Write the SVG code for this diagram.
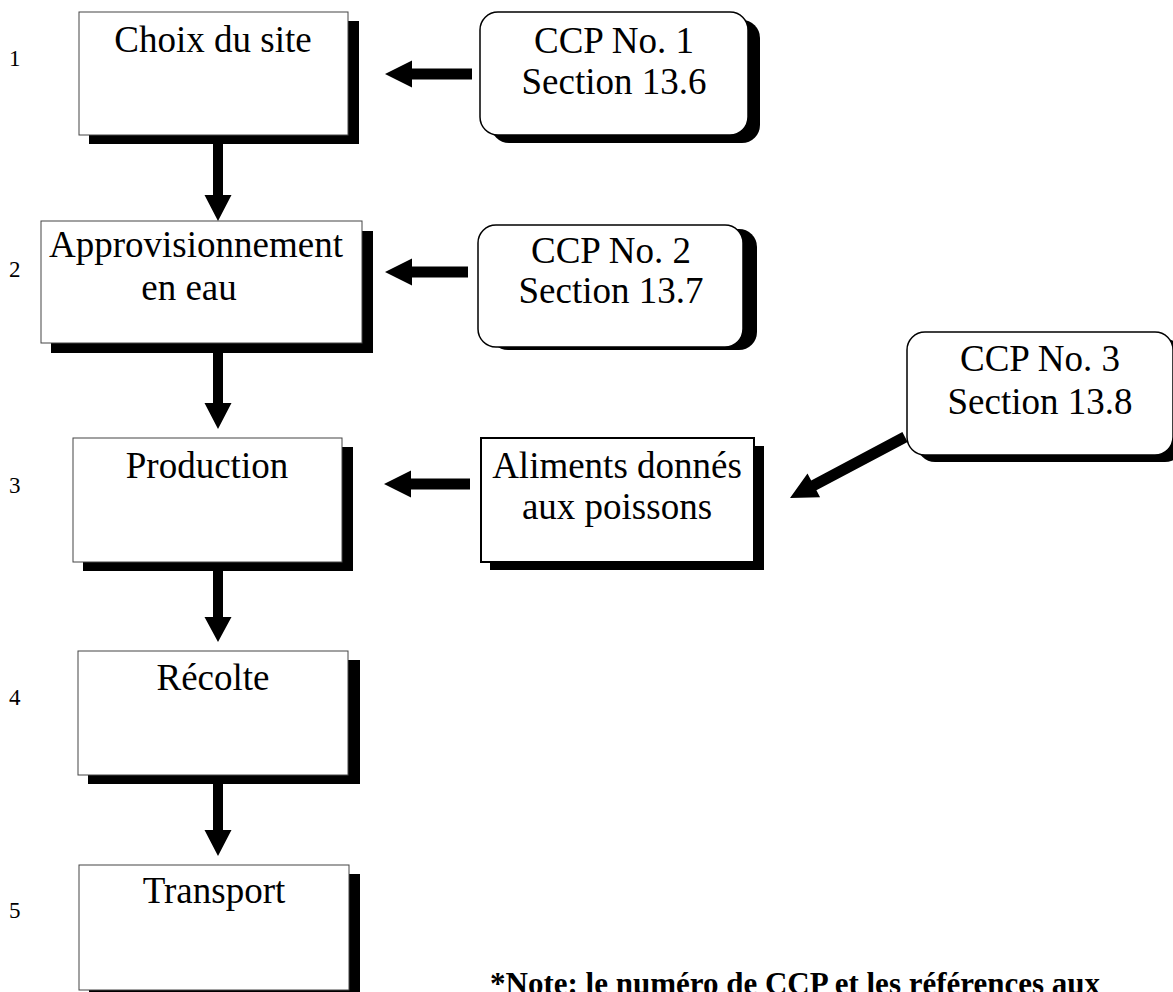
<svg xmlns="http://www.w3.org/2000/svg" width="1173" height="992" viewBox="0 0 1173 992" font-family="'Liberation Serif', 'Times New Roman', Times, 'DejaVu Serif', serif">
<style>
text{font-family:'Liberation Serif','Times New Roman',Times,'DejaVu Serif',serif;fill:#000}
.t{font-size:37px;text-anchor:middle}
.num{font-size:23px}
.box{fill:#fff;stroke:#444;stroke-width:1}
.rbox{fill:#fff;stroke:#000;stroke-width:1.5}
.abox{fill:#fff;stroke:#000;stroke-width:2}
.sh{fill:#000}
.arr{fill:#000}
.note{font-size:31px;font-weight:bold}
</style>
<rect width="1173" height="992" fill="#fff"/>
<g id="labels">
<text class="num" x="9" y="66">1</text>
<text class="num" x="9" y="277">2</text>
<text class="num" x="9" y="493">3</text>
<text class="num" x="9" y="705">4</text>
<text class="num" x="9" y="918">5</text>
</g>
<g id="step1">
<rect class="sh" x="89" y="21" width="270" height="123"/>
<rect class="box" x="79" y="12" width="269" height="123"/>
<text class="t" x="213" y="52">Choix du site</text>
</g>
<g id="step2">
<rect class="sh" x="51" y="231" width="322" height="122"/>
<rect class="box" x="41" y="221" width="321" height="122"/>
<text class="t" x="196" y="257">Approvisionnement</text>
<text class="t" x="189" y="300">en eau</text>
</g>
<g id="step3">
<rect class="sh" x="83" y="447" width="270" height="124"/>
<rect class="box" x="73" y="438" width="269" height="124"/>
<text class="t" x="207" y="478">Production</text>
</g>
<g id="step4">
<rect class="sh" x="88" y="660" width="272" height="124"/>
<rect class="box" x="78" y="651" width="270" height="124"/>
<text class="t" x="213" y="690">Récolte</text>
</g>
<g id="step5">
<rect class="sh" x="89" y="874" width="271" height="125"/>
<rect class="box" x="79" y="865" width="270" height="125"/>
<text class="t" x="214" y="903">Transport</text>
</g>
<g id="ccp1">
<rect class="sh" x="491" y="20" width="269" height="123" rx="18"/>
<rect class="rbox" x="480" y="12" width="268" height="123" rx="18"/>
<text class="t" x="614" y="53">CCP No. 1</text>
<text class="t" x="614" y="94">Section 13.6</text>
</g>
<g id="ccp2">
<rect class="sh" x="490" y="229" width="267" height="121" rx="18"/>
<rect class="rbox" x="478" y="225" width="265" height="122" rx="18"/>
<text class="t" x="611" y="263">CCP No. 2</text>
<text class="t" x="611" y="303">Section 13.7</text>
</g>
<g id="feed">
<rect class="sh" x="490" y="446" width="274" height="124"/>
<rect class="abox" x="481" y="438" width="273" height="124"/>
<text class="t" x="617" y="478">Aliments donnés</text>
<text class="t" x="617" y="519">aux poissons</text>
</g>
<g id="ccp3">
<rect class="sh" x="917" y="339" width="266" height="123" rx="18"/>
<rect class="rbox" x="907" y="332" width="266" height="123" rx="18"/>
<text class="t" x="1040" y="371">CCP No. 3</text>
<text class="t" x="1040" y="414">Section 13.8</text>
</g>
<g id="connectors">
<polygon class="arr" points="213,144 223,144 223,195 231.5,195 218,221 204.5,195 213,195"/>
<polygon class="arr" points="213,353 223,353 223,403 231.5,403 218,429 204.5,403 213,403"/>
<polygon class="arr" points="213,571 223,571 223,617 231.5,617 218,642 204.5,617 213,617"/>
<polygon class="arr" points="213,784 223,784 223,830 231.5,830 218,856 204.5,830 213,830"/>
<polygon class="arr" points="472,68.5 472,79.5 412,79.5 412,87.5 385,74 412,60.5 412,68.5"/>
<polygon class="arr" points="468,266.5 468,277.5 412,277.5 412,285.5 385,272 412,258.5 412,266.5"/>
<polygon class="arr" points="470,478.5 470,489.5 411,489.5 411,497.5 384,484 411,470.5 411,478.5"/>
<polygon class="arr" points="902.4,432.1 907.6,441.9 816.4,490.2 820.1,497.2 790,498 807.5,473.4 811.2,480.4"/>
</g>
<g id="note">
<text class="note" x="490" y="994">*Note: le numéro de CCP et les références aux</text>
</g>
</svg>
